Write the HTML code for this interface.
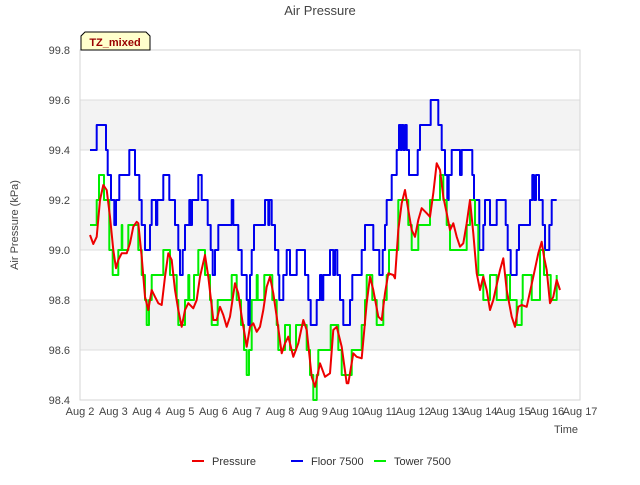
<!DOCTYPE html>
<html><head><meta charset="utf-8"><style>
body{margin:0;background:#fff;font-family:"Liberation Sans",sans-serif}
svg text{font-family:"Liberation Sans",sans-serif}
</style></head><body>
<svg id="c" width="640" height="480" xmlns="http://www.w3.org/2000/svg"></svg>
<script>
const tickLabels=["Aug 2","Aug 3","Aug 4","Aug 5","Aug 6","Aug 7","Aug 8","Aug 9","Aug 10","Aug 11","Aug 12","Aug 13","Aug 14","Aug 15","Aug 16","Aug 17"];
const yTicks=[98.4,98.6,98.8,99.0,99.2,99.4,99.6,99.8];
const pressureT=[0.30,0.40,0.50,0.60,0.70,0.80,0.90,1.00,1.08,1.15,1.25,1.40,1.50,1.60,1.70,1.75,1.85,1.95,2.05,2.15,2.25,2.35,2.45,2.55,2.65,2.75,2.85,2.95,3.05,3.15,3.25,3.40,3.50,3.60,3.75,3.85,4.00,4.10,4.20,4.30,4.40,4.50,4.65,4.75,4.85,5.00,5.10,5.20,5.30,5.40,5.50,5.60,5.70,5.80,5.90,6.05,6.15,6.25,6.40,6.55,6.70,6.80,6.95,7.05,7.20,7.35,7.50,7.60,7.70,7.85,8.00,8.05,8.20,8.30,8.45,8.60,8.70,8.80,8.95,9.05,9.15,9.25,9.40,9.45,9.55,9.65,9.75,9.85,9.95,10.05,10.15,10.25,10.40,10.50,10.60,10.70,10.80,10.90,11.00,11.10,11.20,11.30,11.40,11.50,11.60,11.70,11.80,11.90,12.00,12.10,12.20,12.30,12.40,12.60,12.70,12.80,12.95,13.05,13.15,13.25,13.40,13.60,13.75,13.85,13.92,14.00,14.10,14.20,14.30,14.40,14.50];
const pressureV=[99.06,99.024,99.053,99.20,99.26,99.24,99.133,99.0,98.927,98.96,98.987,98.987,99.027,99.093,99.113,99.107,98.973,98.813,98.76,98.84,98.813,98.787,98.78,98.893,98.987,98.96,98.84,98.76,98.693,98.76,98.787,98.767,98.80,98.893,98.98,98.893,98.72,98.72,98.773,98.74,98.693,98.733,98.867,98.827,98.733,98.613,98.693,98.707,98.673,98.693,98.76,98.853,98.893,98.827,98.733,98.587,98.627,98.653,98.573,98.627,98.72,98.68,98.493,98.453,98.547,98.493,98.507,98.68,98.693,98.613,98.467,98.467,98.587,98.573,98.567,98.787,98.893,98.84,98.733,98.72,98.827,98.907,98.90,98.887,99.08,99.187,99.24,99.16,99.08,99.053,99.12,99.167,99.147,99.133,99.227,99.347,99.32,99.213,99.147,99.08,99.107,99.053,99.013,99.027,99.107,99.20,99.067,98.907,98.84,98.893,98.84,98.76,98.80,98.92,98.967,98.84,98.733,98.693,98.773,98.78,98.773,98.893,98.987,99.033,98.973,98.92,98.787,98.813,98.88,98.84];
const floorT=[0.30,0.50,0.78,0.83,0.93,1.03,1.08,1.18,1.48,1.65,1.78,1.85,1.95,2.10,2.15,2.28,2.32,2.50,2.68,2.85,2.95,3.00,3.08,3.15,3.28,3.32,3.36,3.55,3.65,3.83,3.92,3.98,4.05,4.15,4.55,4.60,4.75,4.85,5.00,5.05,5.10,5.15,5.22,5.55,5.65,5.68,5.75,5.85,5.95,5.98,6.10,6.20,6.30,6.50,6.75,6.85,6.92,7.10,7.20,7.25,7.30,7.50,7.60,7.65,7.72,7.80,7.90,8.10,8.17,8.45,8.55,8.80,8.98,9.08,9.15,9.20,9.35,9.50,9.57,9.62,9.65,9.70,9.75,9.80,9.87,10.13,10.20,10.52,10.75,10.85,10.95,11.02,11.06,11.15,11.40,11.45,11.77,11.82,11.98,12.10,12.15,12.30,12.50,12.77,12.83,12.92,13.10,13.17,13.50,13.57,13.62,13.68,13.77,13.88,13.95,14.08,14.15,14.30];
const floorV=[99.4,99.5,99.4,99.3,99.2,99.1,99.2,99.3,99.4,99.3,99.2,99.1,99.0,99.1,99.2,99.1,99.2,99.3,99.2,99.1,99.0,98.9,99.0,99.1,99.2,99.1,99.2,99.3,99.2,99.1,99.0,98.9,99.0,99.1,99.2,99.1,99.0,98.9,98.8,98.7,98.9,99.0,99.1,99.2,99.1,99.2,99.1,99.0,98.9,98.8,98.9,99.0,98.9,99.0,98.9,98.8,98.7,98.8,98.9,98.8,98.9,99.0,98.9,99.0,98.9,98.8,98.7,98.8,98.9,99.0,99.1,99.0,98.9,99.0,99.1,99.2,99.3,99.4,99.5,99.4,99.5,99.4,99.5,99.4,99.3,99.4,99.5,99.6,99.5,99.4,99.3,99.2,99.3,99.4,99.3,99.4,99.3,99.2,99.0,99.1,99.2,99.1,99.2,99.1,99.0,98.9,99.0,99.1,99.2,99.3,99.2,99.3,99.2,99.1,99.0,99.1,99.2,99.2];
const towerT=[0.30,0.50,0.57,0.72,0.88,0.98,1.15,1.25,1.27,1.35,1.45,1.75,1.85,1.95,2.00,2.07,2.15,2.50,2.70,2.90,2.95,3.15,3.25,3.28,3.42,3.55,3.75,3.90,3.95,4.13,4.55,4.70,4.83,4.92,5.00,5.07,5.15,5.30,5.33,5.53,5.77,5.90,5.95,6.15,6.30,6.48,6.80,6.90,7.00,7.10,7.15,7.52,7.75,7.85,7.90,8.15,8.45,8.55,8.60,8.77,8.90,9.10,9.20,9.27,9.55,9.85,9.95,10.15,10.50,10.80,10.90,11.00,11.10,11.60,11.70,11.85,11.95,12.10,12.30,12.50,12.80,12.90,13.10,13.25,13.28,13.55,13.80,13.92,14.12,14.30];
const towerV=[99.1,99.2,99.3,99.2,99.0,98.9,99.0,99.1,99.0,99.0,99.1,99.0,98.9,98.8,98.7,98.8,98.9,99.0,98.9,98.8,98.7,98.8,98.9,98.8,98.9,99.0,98.9,98.8,98.7,98.8,98.9,98.8,98.7,98.6,98.5,98.6,98.8,98.9,98.8,98.9,98.8,98.7,98.6,98.7,98.6,98.7,98.6,98.5,98.4,98.5,98.6,98.7,98.6,98.5,98.5,98.6,98.7,98.8,98.9,98.8,98.7,98.8,98.9,99.0,99.2,99.1,99.0,99.1,99.2,99.3,99.2,99.1,99.0,99.1,99.2,99.1,98.9,98.8,98.9,98.8,98.9,98.8,98.7,98.8,98.9,98.8,99.0,98.9,98.8,98.9];

const NS="http://www.w3.org/2000/svg";
const svg=document.getElementById('c');
const L=80,R=580,T=50,B=400,ymin=98.4,ymax=99.8;
const xs=d=>L+d*(R-L)/15;
const ys=v=>B-(v-ymin)/(ymax-ymin)*(B-T);
function mk(tag,attrs,text){const e=document.createElementNS(NS,tag);for(const k in attrs)e.setAttribute(k,attrs[k]);if(text!==undefined)e.textContent=text;svg.appendChild(e);return e;}
// bands
for(let i=0;i<yTicks.length-1;i++){
  if(i%2===1){const b=mk('rect',{x:L,y:ys(yTicks[i+1]),width:R-L,height:ys(yTicks[i])-ys(yTicks[i+1]),fill:'#f3f3f3'});
  
  }
}
yTicks.forEach(v=>{
  const g=mk('line',{x1:L,x2:R,y1:ys(v),y2:ys(v),stroke:'#dcdcdc','stroke-width':1});
  
  
  const t=mk('text',{x:70,y:ys(v)+4,'text-anchor':'end','font-size':11,fill:'#444'},v.toFixed(1));
  
  
});
const fr=mk('rect',{x:L,y:T,width:R-L,height:B-T,fill:'none',stroke:'#d6d6d6','stroke-width':1});


tickLabels.forEach((s,i)=>{
  const t=mk('text',{x:xs(i),y:415,'text-anchor':'middle','font-size':11,fill:'#444'},s);
  
  
});
function line(T_,V,color,step,name){
  let d='';
  for(let i=0;i<T_.length;i++){
    const x=xs(T_[i]).toFixed(1),y=ys(V[i]).toFixed(1);
    if(i===0)d+='M'+x+','+y;
    else if(step)d+='H'+x+'V'+y;
    else d+='L'+x+','+y;
  }
  const p=mk('path',{d:d,fill:'none',stroke:color,'stroke-width':2,'stroke-linejoin':'round'});
  
  
}
line(floorT,floorV,'#0000ee',true,'floor-7500-line');
line(towerT,towerV,'#00ee00',true,'tower-7500-line');
line(pressureT,pressureV,'#ee0000',false,'pressure-line');
</script>
<svg width="640" height="480" style="position:absolute;left:0;top:0" xmlns="http://www.w3.org/2000/svg">
<text x="320" y="15" text-anchor="middle" font-size="13" fill="#444">Air Pressure</text>
<text transform="translate(18,225) rotate(-90)" text-anchor="middle" font-size="11" fill="#444">Air Pressure (kPa)</text>
<text x="566" y="433" text-anchor="middle" font-size="11" fill="#444">Time</text>
<g>
<path d="M81,50 V36 L85,32 H146 L150,36 V50 Z" fill="#ffffcc" stroke="#000" stroke-width="1"/>
<text x="115" y="46" text-anchor="middle" font-size="11" font-weight="bold" fill="#990000">TZ_mixed</text>
</g>
<g>
<line x1="192" x2="204" y1="461" y2="461" stroke="#ee0000" stroke-width="2"/>
<text x="212" y="465" font-size="11" fill="#333">Pressure</text>
<line x1="291" x2="303" y1="461" y2="461" stroke="#0000ee" stroke-width="2"/>
<text x="311" y="465" font-size="11" fill="#333">Floor 7500</text>
<line x1="374" x2="386" y1="461" y2="461" stroke="#00ee00" stroke-width="2"/>
<text x="394" y="465" font-size="11" fill="#333">Tower 7500</text>
</g>
</svg>
</body></html>
